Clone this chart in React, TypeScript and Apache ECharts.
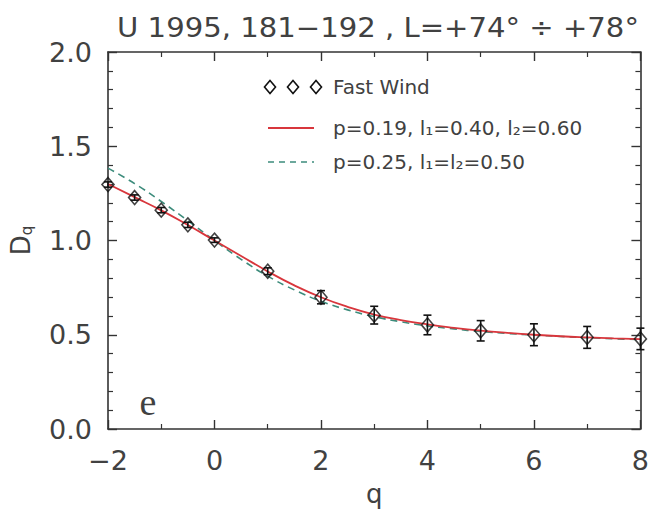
import React, { useEffect, useRef } from 'react';
import * as echarts from 'echarts';

// Data
const qPoints = [-2, -1.5, -1, -0.5, 0, 1, 2, 3, 4, 5, 6, 7, 8];
const dqPoints = [1.297, 1.228, 1.161, 1.083, 1.002, 0.837, 0.699, 0.604, 0.552, 0.521, 0.5, 0.486, 0.478];
const dqErrors = [0.014, 0.014, 0.014, 0.014, 0.012, 0.018, 0.035, 0.047, 0.052, 0.054, 0.058, 0.058, 0.057];

const qCurve = [-2, -1.5, -1, -0.5, 0, 0.5, 1, 1.5, 2, 2.5, 3, 3.5, 4, 4.5, 5, 5.5, 6, 6.5, 7, 7.5, 8];
const redCurve = [1.3, 1.23, 1.16, 1.082, 1.0, 0.918, 0.836, 0.762, 0.699, 0.648, 0.607, 0.578, 0.555, 0.537, 0.522, 0.51, 0.5, 0.492, 0.486, 0.481, 0.477];
const greenCurve = [1.384, 1.302, 1.207, 1.105, 1.0, 0.9, 0.811, 0.738, 0.678, 0.632, 0.596, 0.569, 0.547, 0.531, 0.517, 0.507, 0.498, 0.491, 0.484, 0.479, 0.474];

const titleText = 'U 1995, 181\u2212192 , L=+74\u00b0 \u00f7 +78\u00b0';
const legendFast = 'Fast Wind';
const legendRed = 'p=0.19, l\u2081=0.40, l\u2082=0.60';
const legendGreen = 'p=0.25, l\u2081=l\u2082=0.50';
const panelLabel = 'e';

const FONT = 'DejaVu Sans';
const TEXT = '#414141';
const AXIS = '#333';
const RED = '#d8363c';
const GREEN = '#3d8c7c';

function diamond(cx: number, cy: number, r: number) {
  return {
    type: 'polygon',
    shape: { points: [[cx, cy - r], [cx + r * 0.85, cy], [cx, cy + r], [cx - r * 0.85, cy]] },
    style: { fill: 'transparent', stroke: '#111', lineWidth: 1.6 },
  };
}

export default function App() {
  const ref = useRef<HTMLDivElement>(null);
  useEffect(() => {
    document.body.style.margin = '0';
    const chart = echarts.init(ref.current!, undefined, { renderer: 'svg' });
    const fmtX = (v: number) => (v < 0 ? '\u2212' + Math.abs(v) : String(v));
    const baseX = {
      type: 'value',
      min: -2,
      max: 8,
      interval: 2,
      axisLine: { show: true, onZero: false, lineStyle: { color: AXIS, width: 1.6 } },
      axisTick: { show: true, inside: true, length: 9, lineStyle: { color: AXIS, width: 1.4 } },
      minorTick: { show: true, splitNumber: 2, length: 5, lineStyle: { color: AXIS, width: 1.2 } },
      splitLine: { show: false },
      minorSplitLine: { show: false },
    };
    const baseY = {
      type: 'value',
      min: 0,
      max: 2,
      interval: 0.5,
      axisLine: { show: true, onZero: false, lineStyle: { color: AXIS, width: 1.6 } },
      axisTick: { show: true, inside: true, length: 9, lineStyle: { color: AXIS, width: 1.4 } },
      minorTick: { show: true, splitNumber: 5, length: 5, lineStyle: { color: AXIS, width: 1.2 } },
      splitLine: { show: false },
      minorSplitLine: { show: false },
    };
    chart.setOption({
      animation: false,
      backgroundColor: '#fff',
      grid: { left: 106, right: 6, top: 52, bottom: 77 },
      xAxis: [
        {
          ...baseX,
          position: 'bottom',
          axisLabel: { fontFamily: FONT, fontSize: 27, color: TEXT, margin: 18, formatter: fmtX },
          name: 'q',
          nameLocation: 'middle',
          nameGap: 52,
          nameTextStyle: { fontFamily: FONT, fontSize: 26, color: TEXT },
        },
        { ...baseX, position: 'top', axisLabel: { show: false } },
      ],
      yAxis: [
        {
          ...baseY,
          position: 'left',
          axisLabel: {
            fontFamily: FONT,
            fontSize: 27,
            color: TEXT,
            margin: 16,
            formatter: (v: number) => v.toFixed(1),
          },
          name: '{d|D}{s|q}',
          nameLocation: 'middle',
          nameGap: 74,
          nameRotate: 90,
          nameTextStyle: {
            color: TEXT,
            rich: {
              d: { fontFamily: FONT, fontSize: 26, color: TEXT, lineHeight: 30, verticalAlign: 'bottom' },
              s: { fontFamily: FONT, fontSize: 15, color: TEXT, lineHeight: 30, verticalAlign: 'bottom' },
            },
          },
        },
        { ...baseY, position: 'right', axisLabel: { show: false } },
      ],
      series: [
        {
          type: 'line',
          name: legendGreen,
          data: qCurve.map((q, i) => [q, greenCurve[i]]),
          smooth: true,
          showSymbol: false,
          lineStyle: { color: GREEN, width: 1.6, type: [7, 5] },
          z: 2,
        },
        {
          type: 'line',
          name: legendRed,
          data: qCurve.map((q, i) => [q, redCurve[i]]),
          smooth: true,
          showSymbol: false,
          lineStyle: { color: RED, width: 1.8 },
          z: 3,
        },
        {
          type: 'custom',
          name: 'errors',
          data: qPoints.map((q, i) => [q, dqPoints[i], dqErrors[i]]),
          renderItem: (params: any, api: any) => {
            const x = api.value(0);
            const y = api.value(1);
            const e = api.value(2);
            const top = api.coord([x, y + e]);
            const bot = api.coord([x, y - e]);
            const hw = 4;
            const st = { stroke: '#111', lineWidth: 1.6 };
            return {
              type: 'group',
              children: [
                { type: 'line', shape: { x1: top[0], y1: top[1], x2: bot[0], y2: bot[1] }, style: st },
                { type: 'line', shape: { x1: top[0] - hw, y1: top[1], x2: top[0] + hw, y2: top[1] }, style: st },
                { type: 'line', shape: { x1: bot[0] - hw, y1: bot[1], x2: bot[0] + hw, y2: bot[1] }, style: st },
              ],
            };
          },
          z: 4,
        },
        {
          type: 'scatter',
          name: legendFast,
          data: qPoints.map((q, i) => [q, dqPoints[i]]),
          symbol: 'diamond',
          symbolSize: [12, 14],
          itemStyle: { color: 'rgba(0,0,0,0)', borderColor: '#111', borderWidth: 1.6 },
          z: 5,
        },
      ],
      graphic: [
        {
          type: 'text',
          x: 378,
          y: 28,
          scaleX: 1.12,
          style: {
            text: titleText,
            fontFamily: FONT,
            fontSize: 26,
            fill: TEXT,
            textAlign: 'center',
            textVerticalAlign: 'middle',
          },
        },
        diamond(270, 87, 6.5),
        diamond(293, 87, 6.5),
        diamond(316, 87, 6.5),
        {
          type: 'text',
          x: 333,
          y: 87,
          style: { text: legendFast, fontFamily: FONT, fontSize: 20, fill: TEXT, textVerticalAlign: 'middle' },
        },
        {
          type: 'line',
          shape: { x1: 268, y1: 128, x2: 314, y2: 128 },
          style: { stroke: RED, lineWidth: 1.8 },
        },
        {
          type: 'text',
          x: 333,
          y: 128,
          style: { text: legendRed, fontFamily: FONT, fontSize: 20, fill: TEXT, textVerticalAlign: 'middle' },
        },
        {
          type: 'line',
          shape: { x1: 268, y1: 162, x2: 314, y2: 162 },
          style: { stroke: GREEN, lineWidth: 1.6, lineDash: [6, 5] },
        },
        {
          type: 'text',
          x: 333,
          y: 162,
          style: { text: legendGreen, fontFamily: FONT, fontSize: 20, fill: TEXT, textVerticalAlign: 'middle' },
        },
        {
          type: 'text',
          x: 148,
          y: 402,
          style: {
            text: panelLabel,
            fontFamily: 'Liberation Serif',
            fontSize: 38,
            fill: TEXT,
            textAlign: 'center',
            textVerticalAlign: 'middle',
          },
        },
      ],
    });
    return () => chart.dispose();
  }, []);
  return <div ref={ref} style={{ width: 652, height: 512 }} />;
}
